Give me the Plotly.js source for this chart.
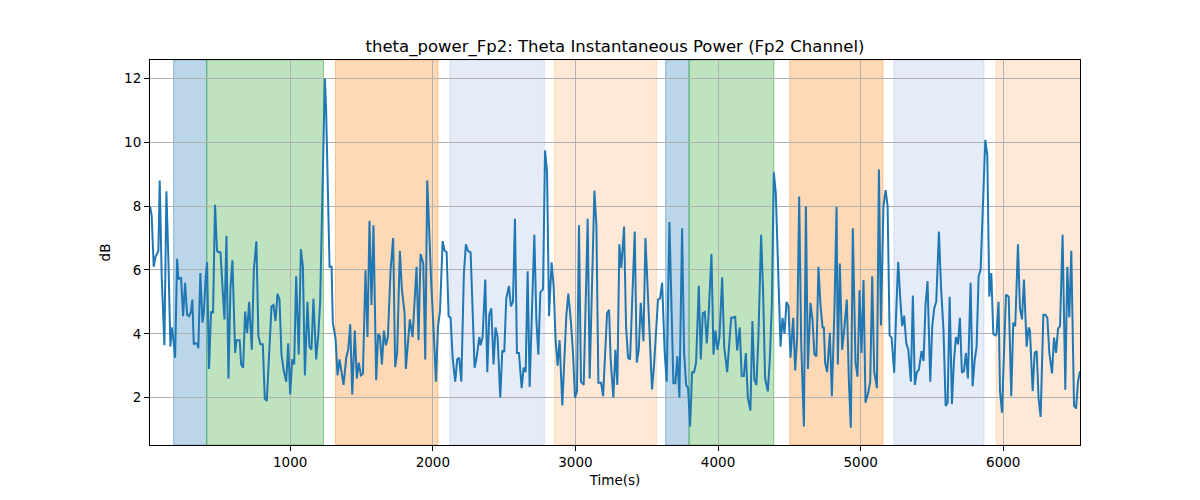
<!DOCTYPE html>
<html>
<head>
<meta charset="utf-8">
<script src="https://cdn.plot.ly/plotly-3.0.1.min.js"></script>
<style>
  html, body { margin: 0; padding: 0; background: #fff; }
  #chart { width: 1200px; height: 500px; }
</style>
</head>
<body>
<div id="chart"></div>
<script>
// Theta instantaneous power, Fp2 channel.
const times = [
  17, 29, 43, 55, 66, 76, 85, 99, 118, 132, 146, 160, 169, 179, 193, 207, 216, 225, 235, 249,
  263, 277, 291, 305, 314, 324, 333, 347, 356, 370, 385, 394, 408, 417, 431, 445, 459, 473, 487, 497,
  511, 525, 539, 553, 567, 581, 595, 614, 623, 632, 646, 656, 670, 684, 698, 712, 731, 745, 763, 777,
  791, 808, 822, 836, 850, 869, 883, 897, 911, 925, 939, 953, 972, 986, 1000, 1014, 1028, 1042, 1060, 1075,
  1089, 1103, 1121, 1135, 1149, 1163, 1182, 1196, 1210, 1243, 1252, 1276, 1290, 1299, 1318, 1332, 1346, 1360, 1374, 1393,
  1407, 1421, 1435, 1453, 1467, 1481, 1496, 1510, 1528, 1542, 1556, 1570, 1584, 1603, 1617, 1629, 1643, 1657, 1671, 1685,
  1704, 1722, 1736, 1750, 1769, 1783, 1802, 1811, 1825, 1839, 1858, 1872, 1886, 1900, 1914, 1933, 1947, 1961, 1975, 1989,
  2008, 2022, 2036, 2050, 2069, 2083, 2097, 2111, 2125, 2139, 2157, 2171, 2185, 2200, 2218, 2232, 2246, 2265, 2279, 2293,
  2307, 2326, 2335, 2349, 2368, 2382, 2396, 2410, 2426, 2440, 2454, 2473, 2487, 2501, 2515, 2534, 2548, 2562, 2576, 2590,
  2604, 2623, 2637, 2651, 2665, 2679, 2698, 2712, 2726, 2740, 2754, 2773, 2787, 2801, 2815, 2833, 2847, 2861, 2875, 2889,
  2908, 2922, 2936, 2950, 2969, 2983, 2997, 3011, 3025, 3039, 3058, 3086, 3100, 3133, 3147, 3161, 3180, 3194, 3208, 3222,
  3236, 3247, 3266, 3280, 3294, 3308, 3322, 3341, 3355, 3369, 3383, 3416, 3430, 3444, 3458, 3477, 3491, 3505, 3519, 3537,
  3551, 3565, 3579, 3593, 3608, 3626, 3640, 3659, 3673, 3687, 3701, 3715, 3729, 3748, 3762, 3776, 3790, 3804, 3818, 3832,
  3846, 3865, 3879, 3893, 3907, 3921, 3935, 3954, 3968, 3982, 3996, 4010, 4029, 4043, 4064, 4078, 4092, 4106, 4120, 4134,
  4152, 4166, 4181, 4195, 4209, 4227, 4241, 4255, 4269, 4283, 4302, 4316, 4330, 4349, 4363, 4377, 4391, 4405, 4419, 4438,
  4452, 4466, 4480, 4494, 4508, 4527, 4541, 4555, 4569, 4583, 4602, 4616, 4630, 4648, 4662, 4676, 4690, 4704, 4718, 4733,
  4742, 4751, 4765, 4784, 4798, 4817, 4831, 4840, 4854, 4870, 4884, 4903, 4917, 4931, 4945, 4964, 4978, 4992, 5006, 5020,
  5034, 5053, 5067, 5081, 5095, 5114, 5128, 5142, 5160, 5175, 5189, 5203, 5217, 5235, 5249, 5263, 5277, 5291, 5305, 5320,
  5334, 5352, 5366, 5380, 5394, 5408, 5427, 5441, 5455, 5469, 5488, 5502, 5516, 5530, 5549, 5563, 5581, 5596, 5610, 5624,
  5640, 5654, 5668, 5682, 5696, 5710, 5724, 5738, 5752, 5771, 5785, 5799, 5813, 5827, 5841, 5874, 5888, 5902, 5916, 5930,
  5944, 5953, 5967, 5977, 5991, 6019, 6038, 6056, 6070, 6084, 6103, 6117, 6131, 6145, 6164, 6178, 6187, 6206, 6220, 6234,
  6248, 6262, 6281, 6295, 6309, 6323, 6342, 6356, 6370, 6384, 6398, 6416, 6435, 6449, 6463, 6477, 6496, 6510, 6524, 6538
];
const power = [
  8.0, 7.68, 6.1, 6.4, 6.5, 6.6, 8.8, 5.8, 3.64, 8.46, 6.3, 3.6, 4.2, 3.9, 3.25, 6.35, 5.7, 5.75, 5.75, 4.55,
  5.6, 4.6, 4.55, 4.7, 5.07, 3.67, 3.7, 3.7, 3.55, 5.9, 4.35, 4.65, 5.8, 6.24, 2.9, 4.7, 4.65, 8.04, 6.6, 6.55,
  6.55, 5.5, 4.45, 7.07, 2.6, 5.4, 6.3, 3.4, 3.8, 3.8, 3.8, 3.04, 2.94, 4.7, 4.03, 5.0, 3.5, 6.0, 6.9, 3.93,
  3.67, 3.67, 1.97, 1.9, 3.2, 4.86, 4.9, 4.4, 5.25, 5.07, 3.35, 2.9, 2.5, 3.7, 2.1, 3.2, 3.04, 5.8, 3.35, 6.65,
  6.1, 2.7, 5.0, 3.6, 3.5, 5.1, 3.2, 3.9, 4.97, 12.0, 11.0, 6.1, 6.1, 4.35, 3.85, 2.7, 3.2, 2.8, 2.4, 3.25,
  3.5, 4.3, 2.1, 4.1, 2.6, 3.1, 2.7, 2.75, 5.99, 3.9, 7.54, 4.9, 7.4, 2.55, 4.0, 3.92, 3.04, 4.1, 3.64, 3.9,
  6.0, 7.0, 2.96, 3.4, 6.6, 5.4, 4.65, 2.9, 3.8, 4.45, 3.9, 4.9, 6.1, 3.8, 6.5, 6.2, 3.2, 8.8, 7.05, 5.6,
  3.9, 2.5, 4.2, 4.7, 6.9, 6.6, 6.55, 4.55, 4.5, 3.25, 2.5, 3.2, 3.25, 2.5, 5.9, 6.8, 6.6, 6.55, 4.75, 2.94,
  3.25, 3.9, 3.64, 3.9, 5.7, 2.8, 4.6, 4.8, 3.04, 4.2, 3.9, 2.0, 3.48, 3.43, 5.1, 5.5, 4.86, 5.0, 7.6, 3.4,
  3.4, 2.3, 2.94, 2.8, 5.96, 2.34, 5.1, 7.1, 4.45, 3.35, 5.3, 5.4, 9.74, 9.08, 4.55, 6.24, 5.5, 3.8, 3.0, 3.8,
  1.76, 3.0, 4.55, 5.26, 4.35, 3.4, 2.0, 2.2, 7.4, 2.5, 2.4, 7.6, 2.6, 8.48, 7.4, 2.47, 2.47, 2.05, 3.4, 4.65,
  4.75, 3.2, 2.0, 3.5, 2.4, 6.8, 6.06, 7.36, 4.24, 3.25, 3.2, 7.2, 3.1, 3.5, 4.97, 3.77, 7.0, 5.4, 4.1, 2.26,
  3.0, 3.9, 5.07, 5.1, 5.6, 3.4, 2.5, 7.5, 4.65, 2.45, 2.45, 3.3, 2.0, 7.3, 3.4, 2.4, 2.3, 1.1, 2.8, 2.8,
  3.1, 5.5, 3.2, 4.64, 4.68, 3.7, 4.7, 6.5, 3.35, 4.1, 3.5, 3.9, 5.77, 3.6, 2.8, 3.6, 4.5, 4.5, 4.55, 3.48,
  4.2, 2.68, 2.68, 3.4, 2.0, 1.6, 4.4, 2.55, 2.4, 3.9, 7.1, 5.3, 2.6, 2.2, 3.2, 4.86, 9.05, 8.4, 6.3, 3.6,
  4.5, 4.0, 5.0, 4.86, 3.25, 4.5, 2.85, 3.9, 8.3, 3.7, 1.1, 7.99, 2.9, 4.97, 4.45, 3.35, 3.3, 6.1, 4.9, 4.2,
  4.2, 3.1, 2.8, 4.03, 2.05, 4.86, 7.97, 3.04, 6.2, 3.5, 4.1, 5.07, 2.57, 1.06, 7.3, 3.1, 2.66, 5.36, 3.4, 5.68,
  1.84, 2.16, 2.5, 5.8, 2.83, 2.3, 9.14, 4.26, 8.0, 8.5, 8.0, 3.95, 3.88, 2.78, 4.65, 6.25, 5.16, 4.24, 4.57, 3.7,
  3.5, 2.5, 5.2, 2.4, 2.8, 2.87, 3.46, 3.15, 4.92, 5.65, 2.5, 4.24, 4.8, 5.0, 7.2, 5.5, 4.1, 1.74, 1.84, 5.16,
  1.8, 3.15, 3.9, 3.67, 4.5, 2.78, 2.83, 3.4, 2.6, 5.6, 2.36, 3.15, 3.6, 5.8, 6.0, 10.07, 9.6, 5.16, 5.9, 4.0,
  3.95, 4.0, 5.0, 2.2, 1.53, 5.23, 5.16, 2.05, 4.35, 4.24, 6.8, 4.8, 4.45, 5.7, 3.6, 4.2, 4.1, 2.2, 3.4, 3.46,
  1.95, 1.4, 4.6, 4.6, 4.5, 3.4, 2.76, 3.88, 3.4, 4.16, 4.24, 7.1, 2.25, 6.1, 4.52, 6.6, 1.76, 1.66, 2.5, 2.83
];

// Shaded segments: start, end, colour group
const bandStart = [183, 415, 1318, 2120, 2854, 3633, 3797, 4503, 5233, 5949];
const bandEnd   = [415, 1233, 2036, 2782, 3568, 3797, 4391, 5156, 5865, 6600];
const bandKind  = ["blue", "green", "orange", "paleblue", "paleorange",
                   "blue", "green", "orange", "paleblue", "paleorange"];

const BAND_STYLE = {
  blue:       { fill: "rgba(31,119,180,0.3)",  edge: "rgba(31,119,180,0.45)" },
  green:      { fill: "rgba(44,160,44,0.3)",   edge: "rgba(44,160,44,0.5)" },
  orange:     { fill: "rgba(255,127,14,0.3)",  edge: "rgba(255,127,14,0.4)" },
  paleblue:   { fill: "rgba(70,120,200,0.14)", edge: "rgba(70,120,200,0.18)" },
  paleorange: { fill: "rgba(255,127,14,0.17)", edge: "rgba(255,127,14,0.22)" },
};

const xTicks = [1000, 2000, 3000, 4000, 5000, 6000];
const yTicks = [2, 4, 6, 8, 10, 12];

const FONT = "DejaVu Sans, sans-serif";
const GRID = "#b0b0b0";

const shapes = bandStart.map((x0, i) => ({
  type: "rect",
  xref: "x",
  yref: "paper",
  x0,
  x1: bandEnd[i],
  y0: 0,
  y1: 1,
  fillcolor: BAND_STYLE[bandKind[i]].fill,
  line: { color: BAND_STYLE[bandKind[i]].edge, width: 1 },
  layer: "below",
}));

const trace = {
  type: "scatter",
  mode: "lines",
  x: times,
  y: power,
  line: { color: "#1f77b4", width: 2 },
  hoverinfo: "x+y",
};

const axisCommon = {
  showline: true,
  linecolor: "#000",
  linewidth: 1,
  mirror: true,
  ticks: "outside",
  ticklen: 5,
  tickwidth: 1,
  tickcolor: "#000",
  showgrid: true,
  gridcolor: GRID,
  gridwidth: 1,
  zeroline: false,
  tickfont: { family: FONT, size: 13.5, color: "#000" },
};

const layout = {
  width: 1200,
  height: 500,
  margin: { l: 150, r: 120, t: 60, b: 55 },
  paper_bgcolor: "#fff",
  plot_bgcolor: "#fff",
  showlegend: false,
  font: { family: FONT, color: "#000" },
  title: {
    text: "theta_power_Fp2: Theta Instantaneous Power (Fp2 Channel)",
    font: { family: FONT, size: 16.5, color: "#000" },
    xref: "paper",
    x: 0.5,
    xanchor: "center",
    yref: "container",
    y: 1 - 46 / 500,
    yanchor: "middle",
  },
  xaxis: Object.assign({}, axisCommon, {
    range: [17, 6538],
    tickvals: xTicks,
    ticktext: xTicks.map(String),
    title: { text: "Time(s)", font: { family: FONT, size: 13.5, color: "#000" }, standoff: 6 },
  }),
  yaxis: Object.assign({}, axisCommon, {
    range: [0.52, 12.57],
    tickvals: yTicks,
    ticktext: yTicks.map(String),
    title: { text: "dB", font: { family: FONT, size: 13.5, color: "#000" }, standoff: 10 },
  }),
  shapes,
};

Plotly.newPlot("chart", [trace], layout, { staticPlot: true, displayModeBar: false });
</script>
</body>
</html>
